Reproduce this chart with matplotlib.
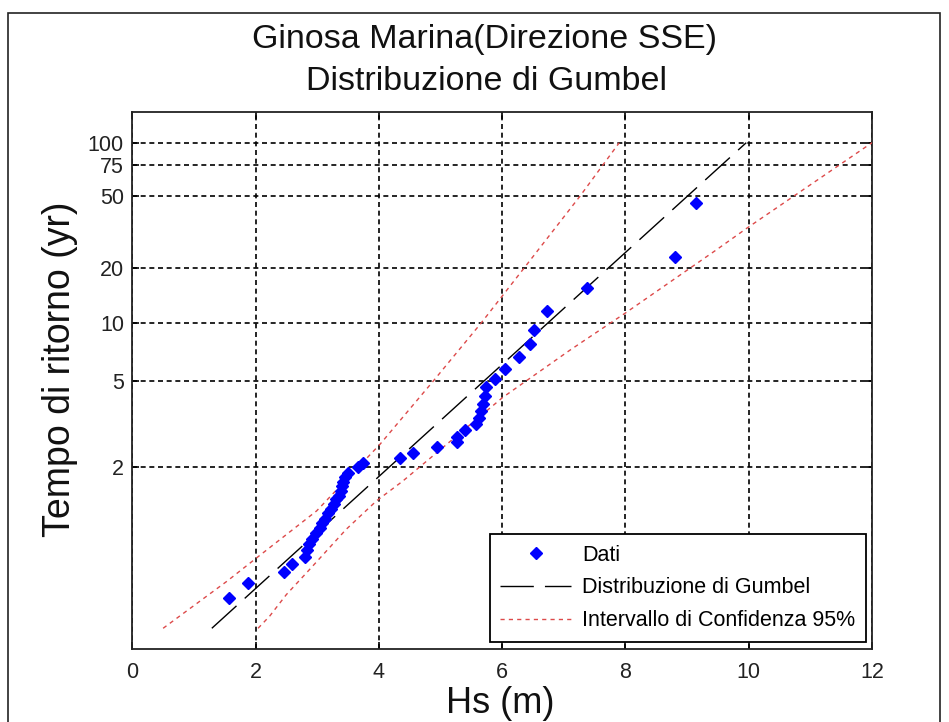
import numpy as np
import matplotlib
matplotlib.use("Agg")
import matplotlib.pyplot as plt
from matplotlib.patches import Rectangle

# tick labels (return period, years) and their Gumbel reduced variate
t_ticks = [2, 5, 10, 20, 50, 75, 100]
x_ticks = [0, 2, 4, 6, 8, 10, 12]

# observed data: Hs (m) and Gumbel reduced variate of the plotting position
hs_dati = [1.57, 1.88, 2.46, 2.59, 2.80, 2.83, 2.87, 2.92, 2.98, 3.04,
           3.08, 3.13, 3.17, 3.22, 3.27, 3.31, 3.35, 3.38, 3.40, 3.42,
           3.45, 3.50, 3.66, 3.74, 4.34, 4.55, 4.94, 5.27, 5.27, 5.39,
           5.58, 5.62, 5.66, 5.69, 5.72, 5.73, 5.88, 6.04, 6.27, 6.45,
           6.51, 6.72, 7.37, 8.81, 9.14]
y_dati = [-1.34, -1.14, -1.00, -0.89, -0.80, -0.71, -0.63, -0.56, -0.49, -0.42,
          -0.36, -0.30, -0.23, -0.17, -0.11, -0.05, 0.00, 0.06, 0.12, 0.18,
          0.24, 0.30, 0.37, 0.43, 0.49, 0.56, 0.63, 0.70, 0.77, 0.85,
          0.93, 1.01, 1.10, 1.20, 1.30, 1.41, 1.52, 1.65, 1.80, 1.97,
          2.16, 2.40, 2.70, 3.11, 3.82]

# fitted Gumbel line
gumbel_hs = [1.29, 9.96]
gumbel_y = [-1.73, 4.60]

# 95% confidence band
ci_up_hs = [0.50, 1.53, 2.02, 2.99, 4.02, 4.89, 5.66, 6.36, 7.26, 7.90]
ci_up_y = [-1.73, -1.12, -0.81, -0.20, 0.67, 1.50, 2.25, 2.97, 3.90, 4.60]
ci_lo_hs = [2.04, 2.23, 2.50, 2.88, 3.47, 3.96, 4.39, 6.01, 7.09, 7.33, 8.00, 9.47, 9.96, 12.00]
ci_lo_y = [-1.73, -1.57, -1.29, -0.96, -0.44, -0.07, 0.19, 1.28, 1.89, 2.02, 2.38, 3.20, 3.48, 4.60]

W, H = 949, 722
arial = ['Liberation Sans', 'DejaVu Sans']

fig = plt.figure(figsize=(W / 100, H / 100), dpi=100)
fig.patch.set_facecolor('white')

# window frame around the figure
fig.add_artist(Rectangle((8 / W, -0.05), (940 - 8) / W, 1 - 13 / H + 0.05,
                         transform=fig.transFigure, fill=False,
                         edgecolor='#222222', linewidth=1.2))

ax = fig.add_axes([132.3 / W, 1 - 649 / H, (872 - 132.3) / W, (649 - 112) / H])

ax.plot(hs_dati, y_dati, linestyle='none', marker='D', markersize=6,
        color='#0000ff', label='Dati', zorder=4)
ax.plot(gumbel_hs, gumbel_y, color='black', linewidth=1.0,
        linestyle=(0, (24, 8)), label='Distribuzione di Gumbel', zorder=3)
ax.plot(ci_up_hs, ci_up_y, color='#dd4a4a', linewidth=1.0,
        linestyle=(0, (3, 3)), label='Intervallo di Confidenza 95%', zorder=3)
ax.plot(ci_lo_hs, ci_lo_y, color='#dd4a4a', linewidth=1.0,
        linestyle=(0, (3, 3)), zorder=3)

ax.set_xlim(0, 12)
ax.set_ylim(-2, 5)
t = np.array(t_ticks, dtype=float)
ax.set_yticks(-np.log(-np.log(1 - 1 / t)))
ax.set_yticklabels([str(v) for v in t_ticks])
ax.set_xticks(x_ticks)
ax.set_xticklabels([str(v) for v in x_ticks])

ax.grid(True, color='black', linewidth=1.2, linestyle=(0, (3, 2.2)))
ax.set_axisbelow(True)
ax.tick_params(direction='in', length=5, width=1.2, top=True, right=True,
               labelsize=15.5, colors='black')
ax.tick_params(axis='x', pad=9)
ax.tick_params(axis='y', pad=6)
for lab in ax.get_xticklabels() + ax.get_yticklabels():
    lab.set_family(arial)
    lab.set_color('#222222')
for s in ax.spines.values():
    s.set_linewidth(1.3)
    s.set_color('#222222')

leg = ax.legend(loc='lower right', bbox_to_anchor=(0.992, 0.013),
                borderaxespad=0, prop={'family': arial, 'size': 15.5},
                handlelength=3.3, borderpad=0.5, labelspacing=0.55,
                handletextpad=0.5, fancybox=False, framealpha=1,
                edgecolor='black')
leg.get_frame().set_linewidth(1.3)

fig.text(484 / W, 1 - 48 / H, 'Ginosa Marina(Direzione SSE)', ha='center',
         va='baseline', fontsize=24.5, family=arial, color='#111111')
fig.text(487 / W, 1 - 90 / H, 'Distribuzione di Gumbel', ha='center',
         va='baseline', fontsize=24.5, family=arial, color='#111111')
fig.text(60 / W, 1 - 369 / H, 'Tempo di ritorno (yr)', rotation=90,
         ha='center', va='center', fontsize=27, family=arial, color='#111111')
fig.text(500 / W, 1 - 713 / H, 'Hs (m)', ha='center', va='baseline',
         fontsize=26, family=arial, color='#111111')

fig.savefig('out.png', dpi=100)
